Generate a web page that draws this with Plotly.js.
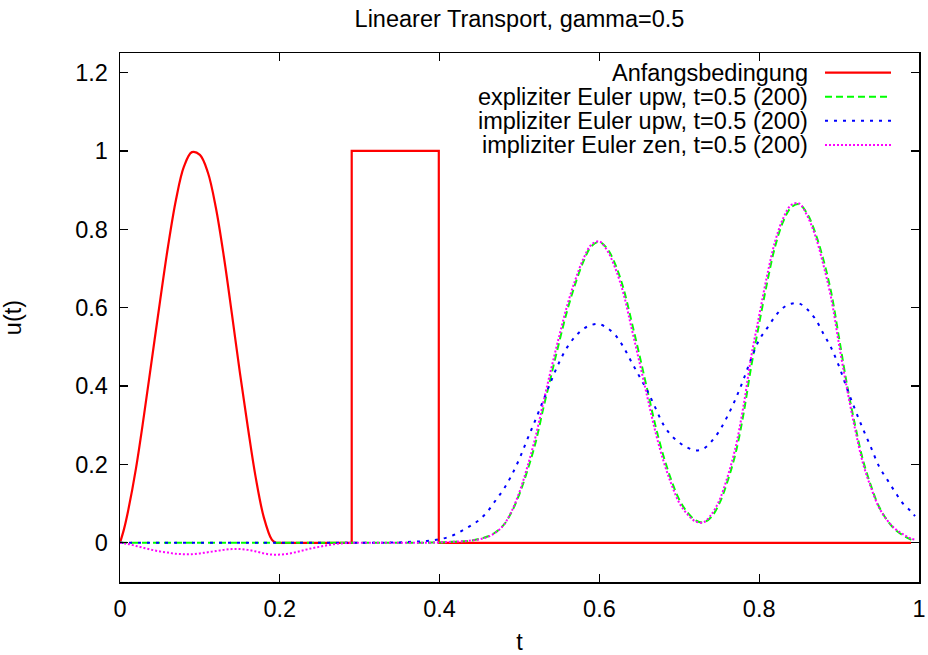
<!DOCTYPE html>
<html>
<head>
<meta charset="utf-8">
<script src="https://cdn.plot.ly/plotly-3.0.1.min.js"></script>
<style>html,body{margin:0;padding:0;background:#fff;}#plot{width:928px;height:655px;}</style>
</head>
<body>
<div id="plot"></div>
<script>
// ---- data ----
const legendLabels = [
  "Anfangsbedingung",
  "expliziter Euler upw, t=0.5 (200)",
  "impliziter Euler upw, t=0.5 (200)",
  "impliziter Euler zen, t=0.5 (200)"
];

// initial condition: smooth bump
const bumpT = [0,0.005,0.01,0.02,0.03,0.04,0.05,0.06,0.07,0.08,0.09,0.10,0.11,0.12,0.13,0.14,0.15,0.16,0.17,0.18,0.19,0.195];
const bumpU = [0,0.035,0.08,0.19,0.325,0.47,0.615,0.755,0.875,0.96,0.997,0.99,0.945,0.855,0.73,0.585,0.435,0.295,0.165,0.065,0.008,0];
// initial condition: box and rest
const boxT = [0.195,0.29,0.29,0.399,0.399,0.99];
const boxU = [0,0,1,1,0,0];

// numerical solutions at t=0.5
const tNum = [];
for (let i = 0; i <= 99; i++) tNum.push(+(i*0.01).toFixed(2));
tNum.push(0.995);

const explUpw = [
  0,0,0,0,0,0,0,0,0,0,
  0,0,0,0,0,0,0,0,0,0,
  0,0,0,0,0,0,0,0,0,0,
  0,0,0,0,0,0,0,0,0,0.0005,
  0.001,0.002,0.003,0.004,0.006,0.010,0.016,0.027,0.045,0.078,
  0.125,0.185,0.255,0.345,0.430,0.515,0.595,0.662,0.718,0.757,
  0.768,0.750,0.710,0.650,0.567,0.480,0.390,0.300,0.223,0.160,
  0.110,0.078,0.058,0.052,0.066,0.100,0.155,0.225,0.325,0.450,
  0.560,0.665,0.757,0.820,0.856,0.864,0.840,0.792,0.725,0.640,
  0.522,0.402,0.300,0.210,0.145,0.092,0.058,0.034,0.019,0.008,
  0.005
];
const implUpw = [
  0,0,0,0,0,0,0,0,0,0,
  0,0,0,0,0,0,0,0,0,0,
  0,0,0,0,0,0,0,0,0,0,
  0,0,0,0,0.001,0.001,0.002,0.003,0.004,0.006,
  0.009,0.014,0.022,0.033,0.045,0.059,0.080,0.108,0.136,0.172,
  0.215,0.265,0.314,0.365,0.415,0.462,0.500,0.527,0.546,0.556,
  0.558,0.548,0.530,0.500,0.462,0.425,0.388,0.345,0.302,0.274,
  0.256,0.243,0.236,0.240,0.258,0.285,0.322,0.365,0.415,0.470,
  0.518,0.548,0.578,0.600,0.610,0.611,0.596,0.572,0.535,0.498,
  0.450,0.393,0.340,0.290,0.243,0.195,0.162,0.130,0.100,0.080,
  0.068
];
const implZen = [
  0,-0.003,-0.008,-0.013,-0.018,-0.022,-0.025,-0.028,-0.029,-0.029,
  -0.027,-0.024,-0.021,-0.018,-0.016,-0.016,-0.018,-0.022,-0.027,-0.030,
  -0.030,-0.028,-0.024,-0.019,-0.014,-0.010,-0.006,-0.003,-0.001,0,
  0,0,0,0,0,0,0,0,0,0.0005,
  0.001,0.002,0.003,0.004,0.006,0.009,0.015,0.026,0.045,0.080,
  0.130,0.195,0.270,0.360,0.447,0.530,0.608,0.672,0.725,0.761,
  0.769,0.745,0.700,0.637,0.550,0.462,0.372,0.284,0.210,0.150,
  0.102,0.073,0.055,0.052,0.072,0.108,0.166,0.240,0.345,0.475,
  0.580,0.683,0.770,0.828,0.862,0.866,0.835,0.785,0.712,0.625,
  0.505,0.392,0.290,0.202,0.140,0.090,0.058,0.036,0.022,0.011,
  0.008
];

const xTicks = [0,0.2,0.4,0.6,0.8,1];
const xTickText = ["0","0.2","0.4","0.6","0.8","1"];
const yTicks = [0,0.2,0.4,0.6,0.8,1,1.2];
const yTickText = ["0","0.2","0.4","0.6","0.8","1","1.2"];

// ---- styles ----
const FONT = "Liberation Sans, Arial, sans-serif";
const FS = 23.5;
const styles = [
  {color:"#ff0000", dash:"solid", width:2.2},
  {color:"#00ff00", dash:"7px,4px", width:2},
  {color:"#0000ff", dash:"3px,6px", width:2},
  {color:"#ff00ff", dash:"2px,2px", width:2}
];

const traces = [
  {x:bumpT, y:bumpU, mode:"lines", line:{color:styles[0].color, width:styles[0].width, shape:"spline"}, hoverinfo:"skip"},
  {x:boxT, y:boxU, mode:"lines", line:{color:styles[0].color, width:styles[0].width}, hoverinfo:"skip"},
  {x:tNum, y:explUpw, mode:"lines", line:{color:styles[1].color, width:styles[1].width, dash:styles[1].dash, shape:"spline"}, hoverinfo:"skip"},
  {x:tNum, y:implUpw, mode:"lines", line:{color:styles[2].color, width:styles[2].width, dash:styles[2].dash, shape:"spline"}, hoverinfo:"skip"},
  {x:tNum, y:implZen, mode:"lines", line:{color:styles[3].color, width:styles[3].width, dash:styles[3].dash, shape:"spline"}, hoverinfo:"skip"}
];

// custom gnuplot-style legend (text left, sample right)
const L = 120, R = 919, T = 53, B = 582;
const rowsPx = [72.7, 96.7, 120.7, 145];
const shapes = [], annotations = [];
rowsPx.forEach((py, i) => {
  const yp = (B - py) / (B - T);
  shapes.push({type:"line", xref:"paper", yref:"paper",
    x0:(825-L)/(R-L), x1:(891-L)/(R-L), y0:yp, y1:yp,
    line:{color:styles[i].color, width:styles[i].width, dash:styles[i].dash}});
  annotations.push({xref:"paper", yref:"paper", x:(810-L)/(R-L), y:yp,
    xanchor:"right", yanchor:"middle", showarrow:false, text:legendLabels[i],
    font:{family:FONT, size:FS, color:"#000"}});
});

const axisCommon = {
  showline:true, linecolor:"#000", linewidth:1.5, mirror:"ticks",
  ticks:"inside", ticklen:8, tickwidth:1.2, tickcolor:"#000",
  showgrid:false, zeroline:false, tickfont:{family:FONT, size:FS, color:"#000"}
};

const layout = {
  width:928, height:655,
  margin:{l:L, r:928-R, t:T, b:655-B, pad:0},
  paper_bgcolor:"#fff", plot_bgcolor:"#fff",
  showlegend:false,
  font:{family:FONT, size:FS, color:"#000"},
  title:{text:"Linearer Transport, gamma=0.5", x:0.5, xref:"paper", xanchor:"center",
         y:0.972, yref:"container", yanchor:"middle", font:{family:FONT, size:FS, color:"#000"}},
  xaxis:Object.assign({}, axisCommon, {range:[0,1], tickvals:xTicks, ticktext:xTickText,
         ticklabelstandoff:5, title:{text:"t", standoff:13, font:{family:FONT, size:FS, color:"#000"}}}),
  yaxis:Object.assign({}, axisCommon, {range:[-0.1,1.25], tickvals:yTicks, ticktext:yTickText,
         ticklabelstandoff:6, title:{text:"u(t)", standoff:47, font:{family:FONT, size:FS, color:"#000"}}}),
  shapes:shapes, annotations:annotations
};

Plotly.newPlot("plot", traces, layout, {staticPlot:true, displayModeBar:false});
</script>
</body>
</html>
